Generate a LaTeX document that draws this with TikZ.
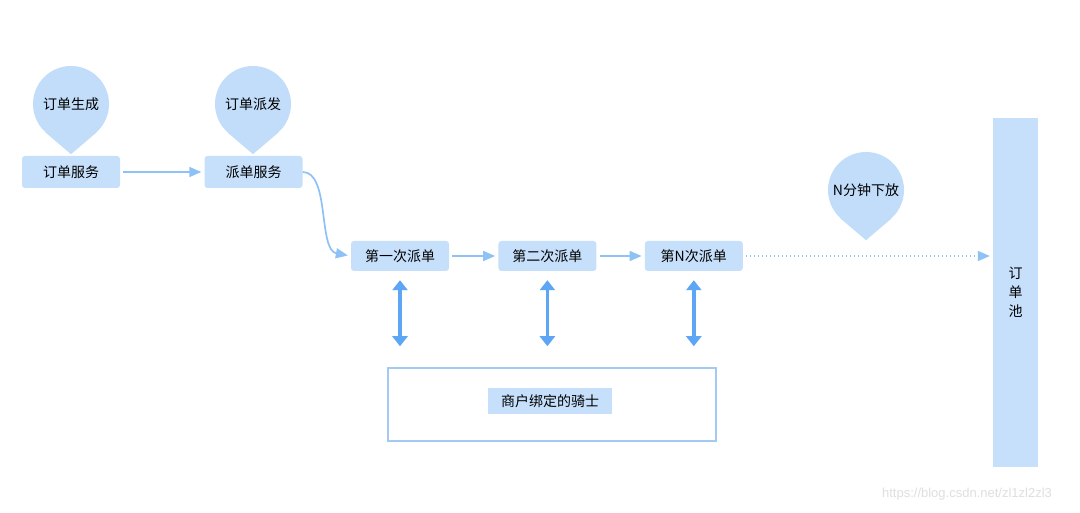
\documentclass[tikz,border=0pt]{standalone}
\usepackage{fontspec}
\usepackage{xcolor}
\usepackage{tikz}
\usetikzlibrary{positioning, arrows.meta, shapes.geometric}
\newfontfamily\cjk{Noto Sans CJK SC}
\newfontfamily\wmfont{Liberation Sans}
\definecolor{boxblue}{HTML}{C6E0FB}
\definecolor{pinblue}{HTML}{C2DDFA}
\definecolor{linkblue}{HTML}{8EC2F6}
\definecolor{dblblue}{HTML}{5DA6F5}
\definecolor{rimblue}{HTML}{A2CAF4}

\begin{document}
\begin{tikzpicture}[
  x=1pt, y=1pt,
  node distance=49pt and 49pt,
  svc/.style={fill=boxblue, rounded corners=3pt, font=\cjk\fontsize{14}{16}\selectfont, minimum width=98pt, minimum height=32pt, inner sep=0pt},
  disp/.style={svc, minimum height=30pt},
  pin/.style={circle, fill=pinblue, minimum size=76pt, inner sep=0pt, font=\cjk\fontsize{14}{16}\selectfont},
  arrow/.style={-{Triangle[length=12pt,width=10pt]}, linkblue, line width=1.7pt, shorten <=3pt, shorten >=3pt},
  dbl/.style={{Triangle[length=10pt,width=15pt]}-{Triangle[length=10pt,width=15pt]}, dblblue, line width=3.8pt},
  lbl/.style={fill=boxblue, font=\cjk\fontsize{14}{16}\selectfont, minimum width=124pt, minimum height=26pt, inner sep=0pt}]

  \useasboundingbox[fill=white] (0,0) rectangle (1080,512);

  % pins
  \node[pin] (pin1) at (71,408) {订单生成};
  \node[pin] (pin2) at (253,408) {订单派发};
  \node[pin] (pin3) at (866,322) {N分钟下放};
  \foreach \p in {pin1, pin2, pin3}
    \fill[pinblue] (\p.-48) -- ([yshift=-12pt]\p.south) -- (\p.-132) -- cycle;

  % services
  \node[svc] (svc1) at (71,340) {订单服务};
  \node[svc] (svc2) at (253.5,340) {派单服务};

  % dispatch rounds
  \node[disp] (disp1) at (400,256) {第一次派单};
  \node[disp, right=of disp1] (disp2) {第二次派单};
  \node[disp, right=48pt of disp2] (dispN) {第N次派单};

  % order pool
  \node[fill=boxblue, minimum width=45pt, minimum height=349pt, inner sep=0pt,
        align=center, font=\cjk\fontsize{14}{19}\selectfont] (pool) at (1015.5,219.5) {订\\单\\池};

  % riders
  \node[draw=rimblue, line width=1.5pt, minimum width=328pt, minimum height=73pt] (rider) at (552,107.5) {};
  \node[lbl] (riderlbl) at (550,111) {商户绑定的骑士};

  \draw[arrow] (svc1) -- (svc2);
  \draw[arrow, shorten <=0pt] (svc2.east) .. controls (330,340) and (318,262) .. (disp1.west);
  \draw[arrow] (disp1) -- (disp2);
  \draw[arrow] (disp2) -- (dispN);
  \draw[arrow, dash pattern=on 1.4pt off 2.6pt, line width=1.5pt] (dispN) -- (dispN -| pool.west);
  \foreach \d in {disp1, disp2, dispN}
    \draw[dbl, shorten <=9pt, shorten >=21pt] (\d.south) -- (\d.south |- rider.north);

  \node[text=gray!25, font=\wmfont\fontsize{13}{15}\selectfont] (wm) at (967,18) {https://blog.csdn.net/zl1zl2zl3};
\end{tikzpicture}
\end{document}
